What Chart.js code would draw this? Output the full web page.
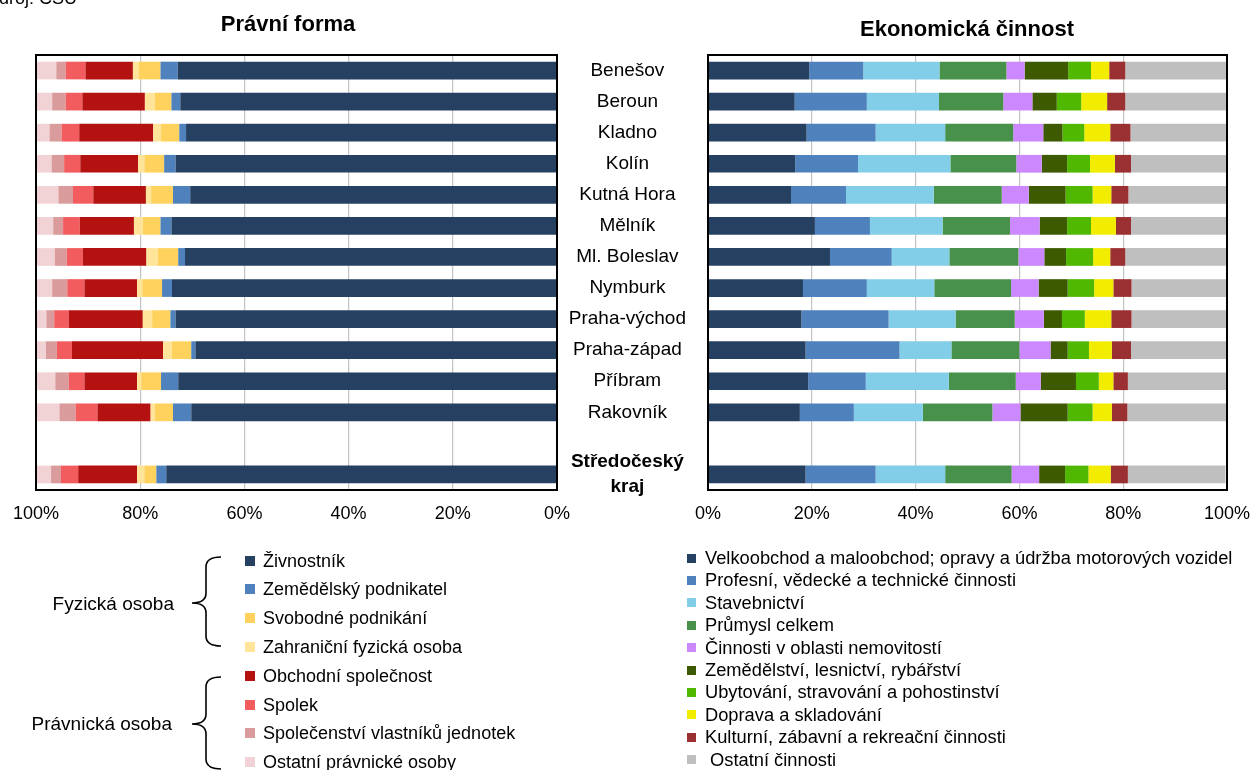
<!DOCTYPE html>
<html>
<head>
<meta charset="utf-8">
<script src="https://cdn.jsdelivr.net/npm/chart.js@4.4.1/dist/chart.umd.min.js"></script>
<style>
html,body{margin:0;padding:0;background:#fff;}
#wrap{position:relative;width:1254px;height:770px;overflow:hidden;font-family:"Liberation Sans",Arial,sans-serif;color:#000;}
canvas{position:absolute;left:0;top:0;}
.title{position:absolute;font-weight:bold;white-space:nowrap;transform:translateX(-50%);}
.lg{position:absolute;white-space:pre;font-size:18px;line-height:20px;}
.lg2{position:absolute;white-space:pre;font-size:18.3px;line-height:20px;}
.sq{position:absolute;}
.grp{position:absolute;white-space:nowrap;font-size:19px;line-height:20px;text-align:right;}
#src{position:absolute;left:-12px;top:-11px;font-size:18px;line-height:18px;white-space:nowrap;}
svg{position:absolute;left:0;top:0;}
</style>
</head>
<body>
<div id="wrap">
  <canvas id="c1" width="1254" height="770"></canvas>
  <canvas id="c2" width="1254" height="770"></canvas>
  <div id="src">Zdroj: ČSÚ</div>
  <div class="title" style="left:288px;top:13px;font-size:22px;line-height:22px;">Právní forma</div>
  <div class="title" style="left:967px;top:18px;font-size:22px;line-height:22px;">Ekonomická činnost</div>
  <svg width="1254" height="770">
    <path d="M221,557 Q206,557 206,567 L206,593 Q206,603 192,603 Q206,603 206,613 L206,636 Q206,646 221,646" fill="none" stroke="#000" stroke-width="1.6"/>
    <path d="M221,677 Q206,677 206,687 L206,714 Q206,724 192,724 Q206,724 206,734 L206,759 Q206,769 221,769" fill="none" stroke="#000" stroke-width="1.6"/>
  </svg>
  <div class="grp" style="right:1080px;top:594px;">Fyzická osoba</div>
  <div class="grp" style="right:1082px;top:714px;">Právnická osoba</div>
  <div id="legends"></div>
</div>
<script>
// ---- DATA ----
const categories = ['Benešov','Beroun','Kladno','Kolín','Kutná Hora','Mělník','Ml. Boleslav','Nymburk','Praha-východ','Praha-západ','Příbram','Rakovník','',['Středočeský','kraj']];
const xTicks = [0,20,40,60,80,100];

// Právní forma (%)
const zivnostnik  = [72.8,72.3,71.2,73.2,70.4,74.0,71.4,73.9,73.2,69.4,72.7,70.2,null,75.0];
const zemedelsky  = [3.3,1.7,1.3,2.2,3.3,2.1,1.3,1.9,1.0,0.8,3.3,3.5,null,1.9];
const svobodne    = [4.2,3.2,3.5,3.8,4.2,3.4,3.9,3.8,3.5,3.7,3.8,3.5,null,2.3];
const zahranicni  = [1.1,1.9,1.5,1.2,1.0,1.7,2.2,1.0,1.8,1.7,0.8,0.8,null,1.4];
const obchodni    = [9.1,12.0,14.2,11.1,10.1,10.4,12.2,10.1,14.2,17.5,10.1,10.2,null,11.3];
const spolek      = [3.8,3.2,3.4,3.1,3.9,3.2,3.1,3.3,2.8,2.9,3.0,4.2,null,3.3];
const svj         = [1.8,2.6,2.3,2.4,2.8,1.9,2.3,2.9,1.5,2.1,2.6,3.1,null,1.9];
const ostatniPO   = [3.8,3.1,2.7,3.1,4.3,3.4,3.7,3.1,1.9,1.9,3.7,4.5,null,2.9];
const legalNames  = ['Živnostník','Zemědělský podnikatel','Svobodné podnikání','Zahraniční fyzická osoba','Obchodní společnost','Spolek','Společenství vlastníků jednotek','Ostatní právnické osoby'];
const legalColors = ['#264061','#4f81bd','#ffd25e','#ffe49a','#b41111','#f25c5f','#d99b9b','#f2d3d5'];
const legalData   = [zivnostnik,zemedelsky,svobodne,zahranicni,obchodni,spolek,svj,ostatniPO];

// Ekonomická činnost (%)
const velkoobchod  = [19.5,16.7,19.0,16.8,16.0,20.6,23.5,18.3,18.0,18.8,19.3,17.7,null,18.8];
const profesni     = [10.4,13.9,13.3,12.1,10.6,10.6,11.9,12.3,16.8,18.1,11.1,10.4,null,13.5];
const stavebnictvi = [14.7,13.9,13.4,17.8,16.9,14.0,11.1,13.0,12.9,10.0,16.0,13.3,null,13.4];
const prumysl      = [12.9,12.4,13.1,12.7,13.1,13.0,13.3,14.8,11.4,13.1,12.9,13.4,null,12.8];
const nemovitosti  = [3.5,5.6,5.8,4.9,5.2,5.7,5.0,5.3,5.6,6.0,4.8,5.4,null,5.3];
const zemedelstvi  = [8.4,4.7,3.7,4.9,7.1,5.3,4.2,5.6,3.5,3.3,6.8,9.1,null,5.0];
const ubytovani    = [4.4,4.7,4.2,4.4,5.2,4.6,5.2,5.1,4.4,4.1,4.4,4.8,null,4.5];
const doprava      = [3.5,5.0,5.0,4.8,3.6,4.8,3.3,3.7,5.1,4.4,2.8,3.7,null,4.3];
const kulturni     = [3.1,3.5,3.9,3.1,3.3,2.9,2.9,3.5,3.9,3.7,2.8,3.0,null,3.3];
const ostatni      = [19.6,19.5,18.7,18.5,19.2,18.5,19.6,18.5,18.3,18.3,19.0,19.2,null,18.8];
const econNames  = ['Velkoobchod a maloobchod; opravy a údržba motorových vozidel','Profesní, vědecké a technické činnosti','Stavebnictví','Průmysl celkem','Činnosti v oblasti nemovitostí','Zemědělství, lesnictví, rybářství','Ubytování, stravování a pohostinství','Doprava a skladování','Kulturní, zábavní a rekreační činnosti',' Ostatní činnosti'];
const econColors = ['#264061','#4f81bd','#82cde8','#47914a','#cc88ff','#3d5a00','#50b800','#f2ec00','#9b3032','#bfbfbf'];
const econData   = [velkoobchod,profesni,stavebnictvi,prumysl,nemovitosti,zemedelstvi,ubytovani,doprava,kulturni,ostatni];

// ---- CHARTS ----
Chart.defaults.font.family = '"Liberation Sans", Arial, sans-serif';
Chart.defaults.color = '#000';

const frame = {
  id:'frame',
  afterDraw(chart){
    const {ctx, chartArea:a} = chart;
    ctx.save();
    ctx.strokeStyle = '#000';
    ctx.lineWidth = 2;
    ctx.strokeRect(a.left, a.top, a.right - a.left, a.bottom - a.top);
    ctx.restore();
  }
};

function makeSets(names, colors, data){
  return names.map((n,i)=>({
    label:n, data:data[i], backgroundColor:colors[i],
    borderWidth:0, barPercentage:0.57, categoryPercentage:1.0
  }));
}

const xAxisCommon = (reverse)=>({
  stacked:true, reverse:reverse, min:0, max:100,
  afterBuildTicks: s => { s.ticks = xTicks.map(v=>({value:v})); },
  ticks:{ callback:v=>v+'%', font:{size:18}, color:'#000', padding:13, maxRotation:0, autoSkip:false },
  grid:{ color:'#c3c3c3', lineWidth:1.2, drawTicks:false },
  border:{ display:false },
  afterFit: s => { s.height = 40; s.paddingLeft = 0; s.paddingRight = 0; }
});

new Chart(document.getElementById('c1'), {
  type:'bar',
  data:{ labels:categories, datasets:makeSets(legalNames, legalColors, legalData) },
  options:{
    indexAxis:'y', responsive:false, animation:false, devicePixelRatio:1,
    layout:{ padding:{ left:36, right:1254-557, top:55, bottom:240 } },
    plugins:{ legend:{display:false}, tooltip:{enabled:false} },
    scales:{
      x: xAxisCommon(true),
      y: { stacked:true, display:false }
    }
  },
  plugins:[frame]
});

new Chart(document.getElementById('c2'), {
  type:'bar',
  data:{ labels:categories, datasets:makeSets(econNames, econColors, econData) },
  options:{
    indexAxis:'y', responsive:false, animation:false, devicePixelRatio:1,
    layout:{ padding:{ left:708-165, right:1254-1227, top:55, bottom:240 } },
    plugins:{ legend:{display:false}, tooltip:{enabled:false} },
    scales:{
      x: xAxisCommon(false),
      y: {
        stacked:true,
        afterFit: s => { s.width = 165; s.paddingTop = 0; s.paddingBottom = 0; },
        ticks:{
          crossAlign:'center', padding:22, color:'#000', autoSkip:false,
          font: ctx => (ctx.index === 13 ? {size:19, weight:'bold', lineHeight:1.3} : {size:19})
        },
        grid:{ display:false, drawTicks:false },
        border:{ display:false }
      }
    }
  },
  plugins:[frame]
});

// ---- LEGENDS (built from series names/colors) ----
const lg = document.getElementById('legends');
legalNames.forEach((n,i)=>{
  const cy = 560.5 + i*28.8;
  const s = document.createElement('div'); s.className='sq';
  s.style.cssText = `left:245px;top:${cy-5}px;width:10px;height:10px;background:${legalColors[i]}`;
  lg.appendChild(s);
  const t = document.createElement('div'); t.className='lg';
  t.style.cssText = `left:263px;top:${cy-10}px;`;
  t.textContent = n; lg.appendChild(t);
});
econNames.forEach((n,i)=>{
  const cy = 558 + i*22.4;
  const s = document.createElement('div'); s.className='sq';
  s.style.cssText = `left:687px;top:${cy-4.5}px;width:9px;height:9px;background:${econColors[i]}`;
  lg.appendChild(s);
  const t = document.createElement('div'); t.className='lg2';
  t.style.cssText = `left:705px;top:${cy-10}px;`;
  t.textContent = n; lg.appendChild(t);
});
</script>
</body>
</html>
